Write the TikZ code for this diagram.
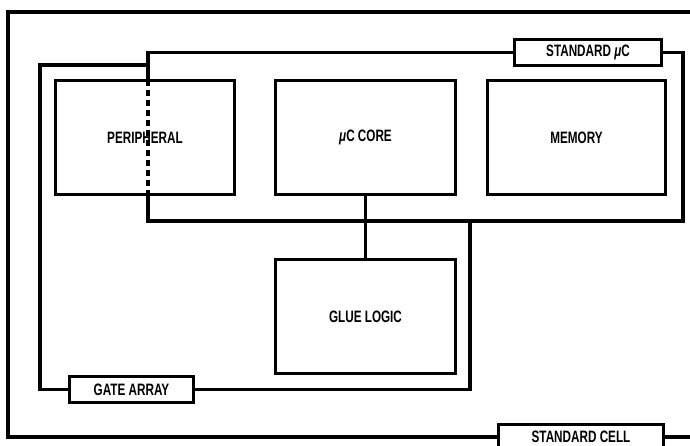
\documentclass[tikz,border=0pt]{standalone}
\usepackage{fontspec}
\setmainfont{Liberation Sans}[FakeStretch=0.71]
\begin{document}
\begin{tikzpicture}[x=1pt,y=-1pt,
  lw/.style={line width=3.2pt},
  txt/.style={font=\fontsize{16.5}{18}\selectfont\bfseries},
  blk/.style={draw,lw,txt,minimum width=#1-3.2pt,inner sep=0pt},
  lbl/.style={draw,lw,txt,fill=white,minimum width=#1-3.2pt,minimum height=25.8pt,inner sep=0pt},
  wire/.style={lw,line join=miter},
  ]
\useasboundingbox (0,0) rectangle (690,446);
% blocks
\node[blk=182, minimum height=113.8pt] (per) at (145,137.5) {PERIPHERAL};
\node[blk=183, minimum height=113.8pt] (core) at (365.5,137.5) {{\itshape μ}C CORE};
\node[blk=181, minimum height=113.8pt] (mem) at (576.5,137.5) {MEMORY};
\node[blk=183, minimum height=113.8pt] (glue) at (365.5,316.5) {GLUE LOGIC};
% labels
\node[lbl=150] (smc) at (588,52.5) {STANDARD {\itshape μ}C};
\node[lbl=127] (ga) at (131.5,389.5) {GATE ARRAY};
\node[lbl=168] (sc) at (581,437) {STANDARD CELL};
% corner coordinates
\coordinate (m1) at (148,52.5);
\coordinate (m2) at (148,80);
\coordinate (m3) at (148,195);
\coordinate (m4) at (148,221);
\coordinate (m5) at (683,221);
\coordinate (m6) at (683,52.5);
\coordinate (g1) at (40,389.5);
\coordinate (g2) at (40,65);
\coordinate (g3) at (148,65);
\coordinate (g4) at (470,389.5);
\coordinate (g5) at (470,221);
\coordinate (s1) at (8,437);
\coordinate (s2) at (8,12);
\coordinate (s3) at (690,12);
\coordinate (s4) at (690,437);
% standard uC frame
\draw[wire] (smc.west) -- (m1) -- (m2);
\draw[lw,dash pattern=on 6.5pt off 3.5pt] (m2) -- (m3);
\draw[wire] (m3) -- (m4) -- (m5) -- (m6) -- (smc.east);
% gate array frame
\draw[wire] (ga.west) -- (g1) -- (g2) -- (g3);
\draw[wire] (ga.east) -- (g4) -- (g5);
% standard cell frame
\draw[wire] (sc.west) -- (s1) -- (s2) -- (s3);
\draw[wire] (sc.east) -- (s4);
% connector
\draw[lw] (core.south) -- (glue.north);
\end{tikzpicture}
\end{document}
